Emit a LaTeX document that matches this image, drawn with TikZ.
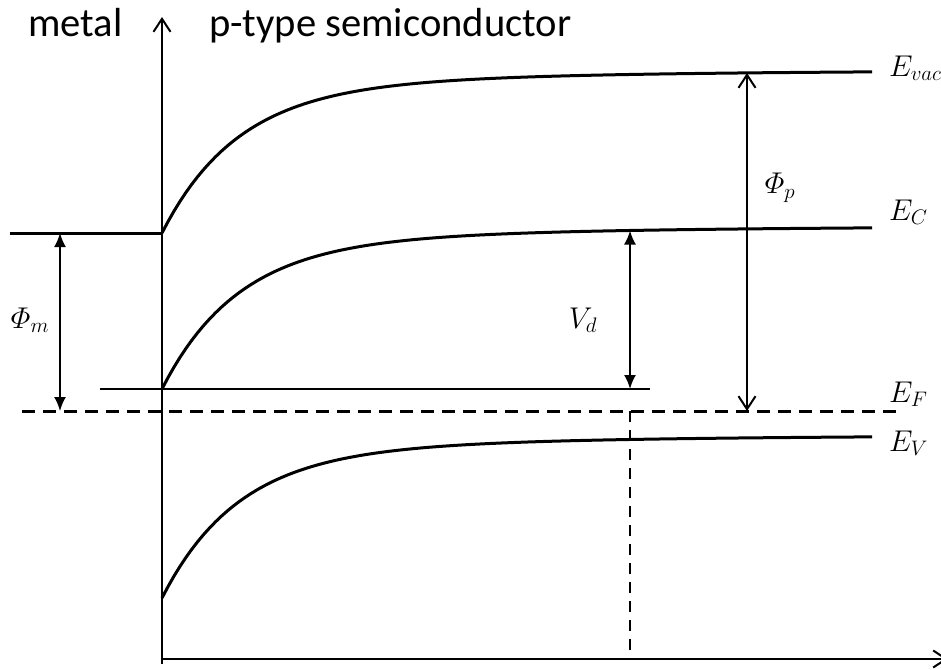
\RequirePackage{fix-cm}
\documentclass[tikz,border=0pt]{standalone}
\usepackage{amsmath}
\usepackage{fontspec}
\setsansfont{Carlito}
\usetikzlibrary{arrows.meta}
\begin{document}
\begin{tikzpicture}[x=1pt, y=-1pt, >=latex, line width=2pt,
  band/.style={line width=3pt},
  lbl/.style={font=\fontsize{30}{36}\selectfont, inner sep=0pt},
  head/.style={font=\sffamily\fontsize{40.6}{48}\selectfont, inner sep=0pt, anchor=base west},
  barb/.style={-{Straight Barb[length=13pt,width=17pt]}},
  dbl/.style={{Latex[length=14pt,width=12pt]}-{Latex[length=14pt,width=12pt]}},
  dbb/.style={{Straight Barb[length=13pt,width=17pt]}-{Straight Barb[length=13pt,width=17pt]}}]
\useasboundingbox (0,0) rectangle (941,669);
\def\xa{162}
\coordinate (O)    at (\xa,659);
\coordinate (Ytop) at (\xa,17);
\coordinate (Xend) at (948,659);
\coordinate (Mtop) at (60,233);
\coordinate (Mbot) at (60,411);
\coordinate (Vtop) at (630,230.5);
\coordinate (Vbot) at (630,389);
\coordinate (Ptop) at (747,73);
\coordinate (Pbot) at (747,411);
\draw[barb] (\xa,664) -- (Ytop);
\draw[barb] (O) -- (Xend);
\foreach \yb in {70,226,435}
  \draw[band] plot[domain=\xa:872, samples=120, variable=\t]
    (\t,{\yb+143*exp(-(\t-\xa)/75)+20*exp(-(\t-\xa)/300)});
\draw[band] (10,233) -- (\xa,233);
\draw (100,389) -- (650,389);
\draw[line width=3pt, dash pattern=on 13pt off 8pt] (22,411) -- (902,411);
\draw[dash pattern=on 11pt off 8pt] (Vbot |- Pbot) -- (Vbot |- O);
\draw[dbl] (Mtop) -- (Mbot);
\draw[dbl] (Vtop) -- (Vbot);
\draw[dbb] (Ptop) -- (Pbot);
\node[head] (metal) at (27,37) {metal};
\node[head] (semi) at (208,37) {p-type semiconductor};
\node[lbl] (phim) at (30,320) {$\varPhi_m$};
\node[lbl] (vd)   at (583,320) {$V_d$};
\node[lbl] (phip) at (780,188) {$\varPhi_p$};
\node[lbl, anchor=base west] (evac) at (888,76)  {$E_{vac}$};
\node[lbl, anchor=base west] (ec)   at (888,220) {$E_C$};
\node[lbl, anchor=base west] (ef)   at (888,402) {$E_F$};
\node[lbl, anchor=base west] (ev)   at (888,451) {$E_V$};
\end{tikzpicture}
\end{document}
